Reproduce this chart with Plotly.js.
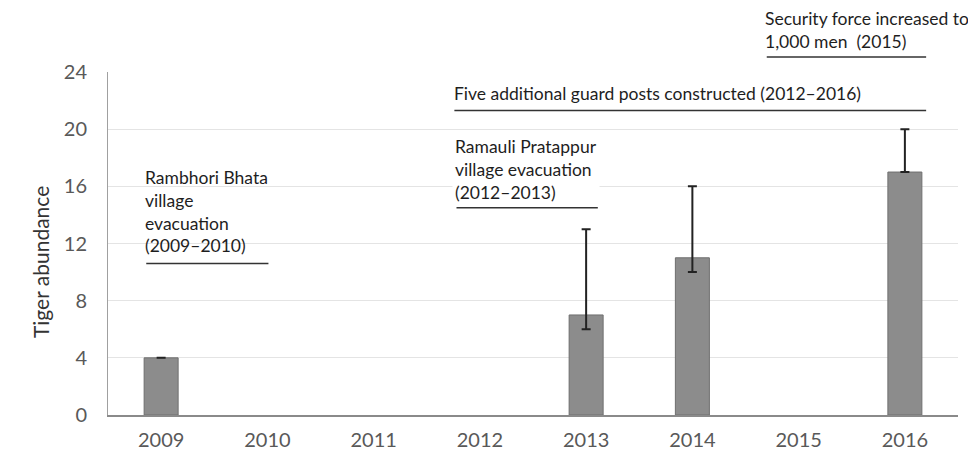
<!DOCTYPE html>
<html>
<head>
<meta charset="utf-8">
<script src="https://cdn.plot.ly/plotly-3.0.1.min.js"></script>
<style>html,body{margin:0;padding:0;background:#fff;}#chart{width:968px;height:458px;}</style>
</head>
<body>
<div id="chart"></div>
<script>
const years = ['2009','2010','2011','2012','2013','2014','2015','2016'];
const abundance = [4, null, null, null, 7, 11, null, 17];
const errUp = [0, 0, 0, 0, 6, 5, 0, 3];
const errDown = [0, 0, 0, 0, 1, 1, 0, 0];
const yTicks = [0, 4, 8, 12, 16, 20, 24];

const FONT = 'Lato, "Open Sans", sans-serif';

const trace = {
  type: 'bar',
  x: years,
  y: abundance,
  width: 0.32,
  marker: {color: '#8c8c8c', line: {color: '#6f6f6f', width: 1}},
  error_y: {type: 'data', symmetric: false, array: errUp, arrayminus: errDown,
            color: '#222', thickness: 2, width: 4.5},
  hoverinfo: 'skip'
};

const lineStyle = {color: '#333', width: 1.5};
const shapes = [
  {type: 'line', xref: 'x', yref: 'y', x0: -0.14, x1: 1.01, y0: 10.6, y1: 10.6, line: lineStyle},
  {type: 'line', xref: 'x', yref: 'y', x0: 2.78, x1: 4.11, y0: 14.5, y1: 14.5, line: lineStyle},
  {type: 'line', xref: 'x', yref: 'y', x0: 2.76, x1: 7.2, y0: 21.3, y1: 21.3, line: lineStyle},
  {type: 'line', xref: 'x', yref: 'paper', x0: 5.70, x1: 7.2, y0: 1.044, y1: 1.044, line: lineStyle}
];

const annFont = {family: FONT, size: 17.5, color: '#1e1e1e'};
const annotations = [
  {xref: 'x', yref: 'paper', x: -0.17, y: 0.729, xanchor: 'left', yanchor: 'top', align: 'left', showarrow: false,
   text: 'Rambhori Bhata<br>village<br>evacuation<br>(2009–2010)', font: annFont},
  {xref: 'x', yref: 'paper', x: 2.74, y: 0.823, xanchor: 'left', yanchor: 'top', align: 'left', showarrow: false,
   text: 'Ramauli Pratappur<br>village evacuation<br>(2012–2013)', font: annFont, bgcolor: '#fff', borderpad: 2},
  {xref: 'x', yref: 'paper', x: 2.73, y: 0.978, xanchor: 'left', yanchor: 'top', align: 'left', showarrow: false,
   text: 'Five additional guard posts constructed (2012–2016)', font: annFont, bgcolor: '#fff', borderpad: 2},
  {xref: 'x', yref: 'paper', x: 5.66, y: 1.193, xanchor: 'left', yanchor: 'top', align: 'left', showarrow: false,
   text: 'Security force increased to<br>1,000 men  (2015)', font: annFont},
  {xref: 'paper', yref: 'paper', x: -0.08, y: 0.446, xanchor: 'center', yanchor: 'middle', textangle: -90, showarrow: false,
   text: 'Tiger abundance', font: {family: FONT, size: 21, color: '#333'}}
];

const layout = {
  width: 968, height: 458,
  margin: {l: 108, r: 10, t: 72, b: 43},
  paper_bgcolor: '#fff', plot_bgcolor: '#fff',
  showlegend: false,
  xaxis: {type: 'category', range: [-0.5, 7.5], showgrid: false, showline: true, linecolor: '#8a8a8a', linewidth: 1.5,
          ticks: '', ticklabelstandoff: 6, tickfont: {family: FONT, size: 20, color: '#595959'}, zeroline: false, fixedrange: true},
  yaxis: {range: [0, 24], tickvals: yTicks, ticktext: yTicks.map(String), showgrid: true, gridcolor: '#e4e4e4', gridwidth: 1,
          showline: true, linecolor: '#a0a0a0', linewidth: 1, zeroline: false, ticks: '', ticklabelstandoff: 16,
          tickfont: {family: FONT, size: 20, color: '#595959'}, fixedrange: true},
  shapes: shapes,
  annotations: annotations
};

Plotly.newPlot('chart', [trace], layout, {displayModeBar: false, staticPlot: true});
</script>
</body>
</html>
